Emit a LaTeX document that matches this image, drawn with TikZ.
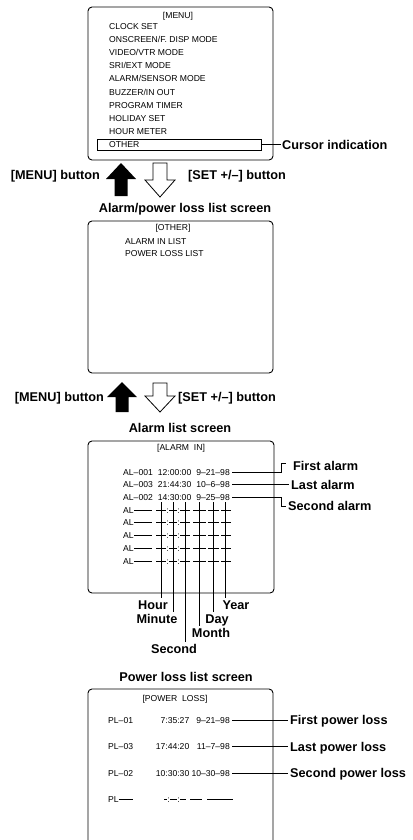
\documentclass[tikz,border=0pt]{standalone}
\usepackage{fontspec}
\setmainfont{Liberation Sans}
\begin{document}
\begin{tikzpicture}[x=1pt,y=-1pt,
  scr/.style={font=\fontsize{8.6}{10}\selectfont, inner sep=0pt, text height=6.2pt, text depth=0pt},
  lbl/.style={font=\fontsize{12.7}{15}\selectfont\bfseries, inner sep=0pt, text height=9.1pt, text depth=0pt},
  screenbox/.style={draw, line width=0.9pt, rounded corners=4pt},
  lead/.style={line width=0.7pt},
  gridline/.style={line width=0.8pt},
  blackarrow/.style={fill=black},
  hollowarrow/.style={draw, fill=white, line width=0.8pt, line join=miter}]
\useasboundingbox (0,0) rectangle (412,840);
\clip (0,0) rectangle (412,840);
\fill[white] (0,0) rectangle (412,840);

% ---------- MENU screen ----------
\draw[screenbox] (88,7) rectangle (273,160);
\node[scr] (menuhead) at (178,15) {[MENU]};
\foreach \t [count=\i from 0] in {CLOCK SET,ONSCREEN/F. DISP MODE,VIDEO/VTR MODE,SRI/EXT MODE,ALARM/SENSOR MODE,BUZZER/IN OUT,PROGRAM TIMER,HOLIDAY SET,HOUR METER,OTHER}
  \node[scr, anchor=west] (mi\i) at (109,26+13.2*\i) {\t};
\node[draw, line width=0.8pt, inner sep=0pt, minimum width=164pt, minimum height=11pt, anchor=west] (cur) at (97,144.8) {};
\node[lbl, anchor=west] (curl) at (282,144.8) {Cursor indication};
\draw[lead] (cur.east) -- ([xshift=-1pt]curl.west);

% ---------- arrows row 1 ----------
\node[lbl, anchor=east] (menub1) at (100,175) {[MENU] button};
\fill[blackarrow] (121,163) -- (136,179) -- (127.5,179) -- (127.5,196) -- (114.5,196) -- (114.5,179) -- (106,179) -- cycle;
\draw[hollowarrow] (153,163) -- (167,163) -- (167,180) -- (175,180) -- (160,197) -- (145,180) -- (153,180) -- cycle;
\node[lbl, anchor=west] (setb1) at (188,175) {[SET +/–] button};

% ---------- OTHER screen ----------
\node[lbl] (title2) at (185,208) {Alarm/power loss list screen};
\draw[screenbox] (88,221) rectangle (273,373);
\node[scr] (otherhead) at (173,227) {[OTHER]};
\node[scr, anchor=west] (oi1) at (125,241) {ALARM IN LIST};
\node[scr, anchor=west] (oi2) at (125,253) {POWER LOSS LIST};

% ---------- arrows row 2 ----------
\node[lbl, anchor=east] (menub2) at (104,397) {[MENU] button};
\fill[blackarrow] (122,382) -- (137,397) -- (128.5,397) -- (128.5,412) -- (115.5,412) -- (115.5,397) -- (107,397) -- cycle;
\draw[hollowarrow] (153,383) -- (167,383) -- (167,396) -- (175,396) -- (160,412) -- (145,396) -- (153,396) -- cycle;
\node[lbl, anchor=west] (setb2) at (178,397) {[SET +/–] button};

% ---------- ALARM IN screen ----------
\node[lbl] (title3) at (180,428) {Alarm list screen};
\draw[screenbox] (88,441) rectangle (274,593);
\node[scr] (alarmhead) at (181,447) {[ALARM\ \ IN]};
\foreach \a/\t/\d [count=\i from 1] in {AL–001/12:00:00/9–21–98,AL–003/21:44:30/10–6–98,AL–002/14:30:00/9–25–98}{
  \node[scr, anchor=west] (a\i) at (123,472+12.7*\i-12.7) {\a};
  \node[scr, anchor=east] (t\i) at (191.5,472+12.7*\i-12.7) {\t};
  \node[scr, anchor=east] (d\i) at (230,472+12.7*\i-12.7) {\d};
}
\foreach \k in {3,...,7}{
  \pgfmathsetmacro{\yy}{472+12.7*\k}
  \node[scr, anchor=west] (e\k) at (123,\yy) {AL};
  \draw[lead] (134,\yy) -- (152,\yy);
  \draw[lead] (156,\yy) -- (166,\yy);
  \node[scr] at (167.6,\yy) {:};
  \draw[lead] (169,\yy) -- (177,\yy);
  \node[scr] at (178.6,\yy) {:};
  \draw[lead] (180,\yy) -- (190,\yy);
  \draw[lead] (193,\yy) -- (206,\yy);
  \draw[lead] (208,\yy) -- (219,\yy);
  \draw[lead] (221,\yy) -- (231,\yy);
}
% right side labels
\node[lbl, anchor=west] (first) at (293,466) {First alarm};
\node[lbl, anchor=west] (last) at (291,484.7) {Last alarm};
\node[lbl, anchor=west] (second) at (288,506) {Second alarm};
\draw[lead] ([xshift=2pt]d1.east) -- (281,472) -- (281,463.5) -- (286,463.5);
\draw[lead] ([xshift=2pt]d2.east) -- ([xshift=-2pt]last.west);
\draw[lead] ([xshift=2pt]d3.east) -- (281,497.4) -- (281,506) -- ([xshift=-2pt]second.west);
% field indicators
\node[lbl] (hour) at (153,605) {Hour};
\node[lbl] (minute) at (157,619) {Minute};
\node[lbl] (secnd) at (174,649) {Second};
\node[lbl] (month) at (211,633) {Month};
\node[lbl] (day) at (217,619) {Day};
\node[lbl] (year) at (236,605) {Year};
\draw[gridline] (161,502) -- (161,598);
\draw[gridline] (173,502) -- (173,612);
\draw[gridline] (185,502) -- (185,642);
\draw[gridline] (199,502) -- (199,626);
\draw[gridline] (213,502) -- (213,612);
\draw[gridline] (225,502) -- (225,598);

% ---------- POWER LOSS screen ----------
\node[lbl] (title4) at (186,677) {Power loss list screen};
\draw[screenbox] (88,860) -- (88,689) -- (273,689) -- (273,860);
\node[scr] (plhead) at (175,698) {[POWER\ \ LOSS]};
\foreach \p/\t/\d/\l [count=\i from 1] in {PL–01/7:35:27/9–21–98/First power loss,PL–03/17:44:20/11–7–98/Last power loss,PL–02/10:30:30/10–30–98/Second power loss}{
  \node[scr, anchor=west] (p\i) at (108,720+26.5*\i-26.5) {\p};
  \node[scr, anchor=east] (pt\i) at (189.5,720+26.5*\i-26.5) {\t};
  \node[scr, anchor=east] (pd\i) at (230,720+26.5*\i-26.5) {\d};
  \node[lbl, anchor=west] (pl\i) at (290,720+26.5*\i-26.5) {\l};
  \draw[lead] ([xshift=2pt]pd\i.east) -- ([xshift=-2pt]pl\i.west);
}
\node[scr, anchor=west] (p4) at (108,799.5) {PL};
\draw[lead] (118.5,799.5) -- (133,799.5);
\draw[lead] (164,799.5) -- (167,799.5);
\node[scr] at (168.6,799.5) {:};
\draw[lead] (170,799.5) -- (177,799.5);
\node[scr] at (178.6,799.5) {:};
\draw[lead] (180,799.5) -- (186,799.5);
\draw[lead] (190,799.5) -- (202,799.5);
\draw[lead] (207,799.5) -- (233,799.5);
\end{tikzpicture}
\end{document}
